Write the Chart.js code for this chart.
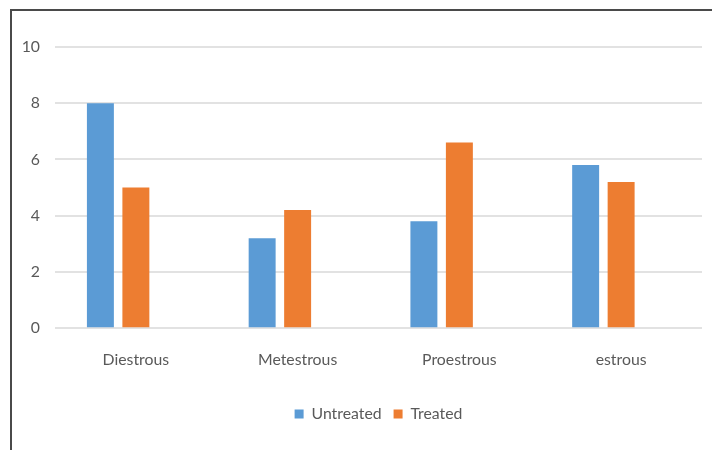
<!DOCTYPE html>
<html>
<head>
<meta charset="utf-8">
<script src="https://cdn.jsdelivr.net/npm/chart.js@4/dist/chart.umd.min.js"></script>
<style>
  html, body { margin: 0; padding: 0; background: #ffffff; }
  body { width: 712px; height: 450px; position: relative; overflow: hidden; }
  #frame {
    position: absolute; left: 10px; top: 9px; width: 720px; height: 460px;
    border-left: 2px solid #4a4a4a; border-top: 2px solid #4a4a4a;
  }
  #wrap { position: absolute; left: 0; top: 0; width: 712px; height: 450px; }
</style>
</head>
<body>
<div id="frame"></div>
<div id="wrap"><canvas id="chart" width="712" height="450"></canvas></div>
<script>
// Phases of the estrous cycle and the counts for each group
const categories = ['Diestrous', 'Metestrous', 'Proestrous', 'estrous'];
const untreated = [8, 3.2, 3.8, 5.8];
const treated = [5, 4.2, 6.6, 5.2];
// Empty third series keeps the three-slot grouping of the original workbook
const spare = [null, null, null, null];
const yTicks = [0, 2, 4, 6, 8, 10];

const FONT = "Lato, 'Liberation Sans', sans-serif";
const SIZE = 15.8;
const TEXT = '#595959';

// Centre the legend under the plot area instead of the whole canvas
const legendUnderPlot = {
  id: 'legendUnderPlot',
  afterLayout(chart) {
    const lg = chart.legend;
    const shift = (chart.chartArea.left + chart.chartArea.right) / 2 - (lg.left + lg.right) / 2;
    lg.left += shift;
    lg.right += shift;
  }
};

new Chart(document.getElementById('chart'), {
  type: 'bar',
  data: {
    labels: categories,
    datasets: [
      { label: 'Untreated', data: untreated, backgroundColor: '#5B9BD5' },
      { label: 'Treated', data: treated, backgroundColor: '#ED7D31' },
      { label: '', data: spare, backgroundColor: 'rgba(0,0,0,0)' }
    ]
  },
  plugins: [legendUnderPlot],
  options: {
    responsive: false,
    animation: false,
    devicePixelRatio: 1,
    categoryPercentage: 0.658,
    barPercentage: 0.76,
    layout: { padding: { left: 0, right: 10, top: 47, bottom: 18 } },
    plugins: {
      tooltip: { enabled: false },
      legend: {
        position: 'bottom',
        labels: {
          filter: item => item.datasetIndex < 2,
          boxWidth: 9,
          boxHeight: 9,
          padding: 12,
          color: TEXT,
          font: { family: FONT, size: SIZE }
        }
      }
    },
    scales: {
      x: {
        grid: { display: false, drawTicks: false },
        border: { display: false },
        ticks: { color: TEXT, padding: 22, font: { family: FONT, size: SIZE } },
        afterFit: scale => { scale.height = 66; }
      },
      y: {
        min: 0,
        max: 10,
        afterBuildTicks: scale => { scale.ticks = yTicks.map(v => ({ value: v })); },
        grid: { color: '#e2e2e2', lineWidth: 2, drawTicks: false },
        border: { display: false },
        ticks: { color: TEXT, padding: 15, font: { family: FONT, size: SIZE } },
        afterFit: scale => { scale.width = 55; }
      }
    }
  }
});
</script>
</body>
</html>
